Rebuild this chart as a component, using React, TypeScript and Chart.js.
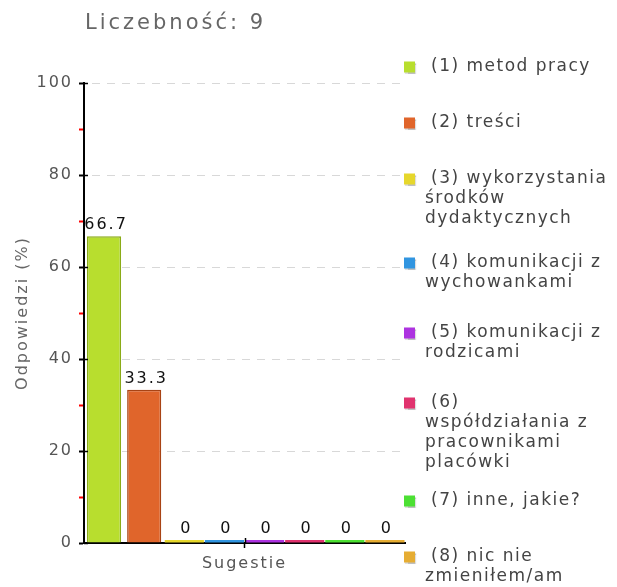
import React, { useEffect, useRef } from 'react';
import { Chart, registerables } from 'chart.js';

Chart.register(...registerables);

const FONT = '"DejaVu Sans", Verdana, sans-serif';

const chartTitle = 'Liczebność: 9';
const categories = ['Sugestie'];
const yAxisTitle = 'Odpowiedzi (%)';
const seriesLabels: string[][] = [
  ['(1) metod pracy'],
  ['(2) treści'],
  ['(3) wykorzystania', 'środków', 'dydaktycznych'],
  ['(4) komunikacji z', 'wychowankami'],
  ['(5) komunikacji z', 'rodzicami'],
  ['(6)', 'współdziałania z', 'pracownikami', 'placówki'],
  ['(7) inne, jakie?'],
  ['(8) nic nie', 'zmieniłem/am'],
];
const seriesValues = [66.7, 33.3, 0, 0, 0, 0, 0, 0];
const seriesColors = ['#b8de2e', '#e0652b', '#e6d72c', '#3195e0', '#ad33e0', '#e0336e', '#4ce033', '#e6ad33'];
const seriesBorders = ['#8aab17', '#a84314', '#c9ba1a', '#1f7cc4', '#9020c4', '#c41f58', '#34c41f', '#c9911c'];
const yMin = 0;
const yMax = 100;
const yStep = 10;

const spacingPlugin = {
  id: 'spacing',
  beforeUpdate(chart: any) {
    chart.ctx.letterSpacing = '2px';
  },
  beforeDraw(chart: any) {
    chart.ctx.letterSpacing = '2px';
  },
};

const valueLabelPlugin = {
  id: 'valueLabels',
  afterDatasetsDraw(chart: any) {
    const ctx = chart.ctx;
    ctx.save();
    ctx.font = `16px ${FONT}`;
    ctx.letterSpacing = '2px';
    ctx.fillStyle = '#111';
    ctx.textAlign = 'center';
    ctx.textBaseline = 'bottom';
    chart.data.datasets.forEach((ds: any, i: number) => {
      const meta = chart.getDatasetMeta(i);
      const el = meta.data[0];
      if (!el) return;
      const top = Math.min(el.y, el.base);
      ctx.fillText(String(ds.data[0]), el.x + 2, top - 3);
    });
    ctx.restore();
  },
};

const decorPlugin = {
  id: 'decor',
  afterDraw(chart: any) {
    const ctx = chart.ctx;
    const area = chart.chartArea;
    const ys = chart.scales.y;
    const xs = chart.scales.x;
    ctx.save();
    // right-side stubs of the major y ticks
    ctx.strokeStyle = '#000';
    ctx.lineWidth = 1.5;
    for (let v = yMin; v <= yMax; v += 20) {
      const py = Math.round(ys.getPixelForValue(v)) + 0.5;
      ctx.beginPath();
      ctx.moveTo(area.left, py);
      ctx.lineTo(area.left + 4, py);
      ctx.stroke();
    }
    // upper stub of the category tick
    const px = Math.round(xs.getPixelForValue(0)) + 0.5;
    ctx.beginPath();
    ctx.moveTo(px, area.bottom);
    ctx.lineTo(px, area.bottom - 5);
    ctx.stroke();

    // title
    ctx.font = `21px ${FONT}`;
    ctx.letterSpacing = '3px';
    ctx.fillStyle = '#666';
    ctx.textAlign = 'left';
    ctx.textBaseline = 'middle';
    ctx.fillText(chartTitle, area.left + 1, 24);

    // legend
    const lx = area.right - 1;
    let cy = area.top - 16;
    ctx.font = `17px ${FONT}`;
    ctx.letterSpacing = '1.5px';
    chart.data.datasets.forEach((ds: any, i: number) => {
      const lines: string[] = seriesLabels[i];
      ctx.save();
      ctx.shadowColor = 'rgba(0,0,0,0.25)';
      ctx.shadowOffsetX = 1;
      ctx.shadowOffsetY = 1;
      ctx.shadowBlur = 1;
      ctx.fillStyle = seriesColors[i];
      ctx.fillRect(lx, cy - 5.5, 11, 11);
      ctx.restore();
      ctx.fillStyle = '#444';
      lines.forEach((t, j) => {
        ctx.fillText(t, j === 0 ? lx + 27 : lx + 21, cy + j * 20);
      });
      cy += 56 + 14 * (lines.length - 1);
    });
    ctx.restore();
  },
};

export default function App() {
  const ref = useRef<HTMLCanvasElement | null>(null);
  useEffect(() => {
    document.body.style.margin = '0';
    const canvas = ref.current;
    if (!canvas) return;
    const datasets = seriesLabels.map((lab, i) => ({
      label: lab.join(' '),
      data: [seriesValues[i]],
      backgroundColor: seriesColors[i],
      borderColor: seriesBorders[i],
      borderWidth: seriesValues[i] > 0 ? 1.5 : 0,
      barPercentage: seriesValues[i] > 0 ? 0.85 : 0.975,
      categoryPercentage: 1,
      minBarLength: 3,
    }));
    const chart = new Chart(canvas, {
      type: 'bar',
      data: { labels: categories, datasets },
      plugins: [spacingPlugin, valueLabelPlugin, decorPlugin],
      options: {
        animation: false,
        responsive: false,
        maintainAspectRatio: false,
        layout: { padding: { top: 83, right: 212, left: 0, bottom: 0 } },
        plugins: {
          legend: { display: false },
          title: { display: false },
          tooltip: { enabled: false },
        },
        scales: {
          x: {
            ticks: { color: '#555', font: { family: FONT, size: 16 }, padding: 6 },
            grid: {
              display: true,
              offset: false,
              drawOnChartArea: false,
              drawTicks: true,
              tickLength: 5,
              tickColor: '#000',
              tickWidth: 1.5,
            },
            border: { display: true, color: '#000', width: 2 },
            afterFit: (s: any) => {
              s.height = 44;
            },
          },
          y: {
            min: yMin,
            max: yMax,
            ticks: {
              stepSize: yStep,
              autoSkip: false,
              color: '#555',
              font: { family: FONT, size: 16 },
              padding: 6,
              callback: (v: any) => (Number(v) % 20 === 0 ? String(v) : ''),
            },
            grid: {
              color: (c: any) =>
                c.tick && c.tick.value % 20 === 0 && c.tick.value !== 0 ? '#d8d8d8' : 'rgba(0,0,0,0)',
              tickColor: (c: any) => (c.tick && c.tick.value % 20 === 0 ? '#000' : '#ff0000'),
              tickLength: 5,
              tickWidth: 2,
              lineWidth: 1,
            },
            border: { display: true, color: '#000', width: 2, dash: [8, 7], dashOffset: 8 },
            title: {
              display: true,
              text: yAxisTitle,
              color: '#666',
              font: { family: FONT, size: 16 },
              padding: { top: 13, bottom: 0 },
            },
            afterFit: (s: any) => {
              s.width = 84;
            },
          },
        },
      } as any,
    });
    return () => chart.destroy();
  }, []);
  return (
    <div style={{ width: 617, height: 587 }}>
      <canvas ref={ref} width={617} height={587} />
    </div>
  );
}
